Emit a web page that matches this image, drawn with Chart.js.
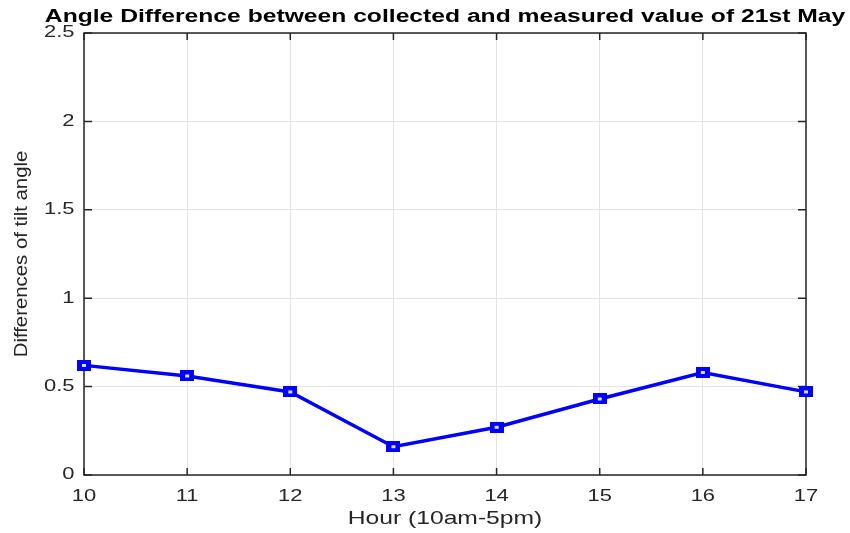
<!DOCTYPE html>
<html>
<head>
<meta charset="utf-8">
<script src="https://cdn.jsdelivr.net/npm/chart.js@4.4.1/dist/chart.umd.min.js"></script>
<style>
  html, body { margin: 0; padding: 0; background: #fff; }
</style>
</head>
<body>
<canvas id="myChart" width="850" height="533"></canvas>
<script>
// data
const hours = ['10', '11', '12', '13', '14', '15', '16', '17'];
const diffs = [0.62, 0.56, 0.47, 0.16, 0.27, 0.43, 0.58, 0.47];
const yTicks = [0, 0.5, 1, 1.5, 2, 2.5];

const FONT = "'Liberation Sans', Arial, Helvetica, sans-serif";
const TEXT = '#262626';

// the reference text is drawn wide, so stretch it a bit
const textStretch = {
  id: 'textStretch',
  beforeDraw(chart) {
    const ctx = chart.ctx;
    if (ctx.__stretched) return;
    ctx.__stretched = true;
    const fill = ctx.fillText;
    ctx.fillText = function (text, x, y) {
      const m = this.getTransform();
      const sx = Math.abs(m.b) > 0.01 ? 1.1 : 1.37;
      this.save();
      this.translate(x, y);
      this.scale(sx, 1);
      fill.call(this, text, 0, 0);
      this.restore();
    };
  }
};

// box round the plot with inward ticks, matlab style
const boxTicks = {
  id: 'boxTicks',
  beforeDatasetsDraw(chart) {
    const {ctx, chartArea: a, scales: {x, y}} = chart;
    ctx.save();
    ctx.strokeStyle = TEXT;
    ctx.lineWidth = 1.5;
    ctx.strokeRect(a.left, a.top, a.right - a.left, a.bottom - a.top);
    ctx.beginPath();
    x.ticks.forEach((t, i) => {
      const px = x.getPixelForTick(i);
      ctx.moveTo(px, a.bottom); ctx.lineTo(px, a.bottom - 7);
      ctx.moveTo(px, a.top); ctx.lineTo(px, a.top + 7);
    });
    y.ticks.forEach(t => {
      const py = y.getPixelForValue(t.value);
      ctx.moveTo(a.left, py); ctx.lineTo(a.left + 8, py);
      ctx.moveTo(a.right, py); ctx.lineTo(a.right - 8, py);
    });
    ctx.stroke();
    ctx.restore();
  }
};

// wide hollow square marker
const marker = document.createElement('canvas');
marker.width = 14;
marker.height = 11;
const mg = marker.getContext('2d');
mg.fillStyle = '#0000ff';
mg.fillRect(0, 0, 14, 11);
mg.fillStyle = '#dcdcff';
mg.fillRect(5, 4, 4, 3);

let ctx = document.querySelector('#myChart').getContext('2d');
let chart = new Chart(ctx, {
  type: 'line',
  data: {
    labels: hours,
    datasets: [{
      label: 'difference',
      data: diffs,
      borderColor: '#0000ff',
      borderWidth: 3.5,
      tension: 0,
      pointStyle: marker,
      pointRadius: 7,
      pointHoverRadius: 7
    }]
  },
  options: {
    responsive: false,
    animation: false,
    devicePixelRatio: 1,
    layout: { padding: { top: 0, right: 44, bottom: 0, left: 0 } },
    plugins: {
      legend: { display: false },
      tooltip: { enabled: false },
      title: {
        display: true,
        text: 'Angle Difference between collected and measured value of 21st May',
        color: '#000',
        fullSize: false,
        font: { family: FONT, size: 18, weight: 'bold' },
        padding: { top: 6, bottom: 5.4 }
      }
    },
    scales: {
      x: {
        grid: { color: '#e3e3e3', lineWidth: 1, drawTicks: false },
        border: { display: false },
        ticks: { color: TEXT, font: { family: FONT, size: 16 }, padding: 12, maxRotation: 0 },
        title: {
          display: true,
          text: 'Hour (10am-5pm)',
          color: TEXT,
          font: { family: FONT, size: 18 },
          padding: { top: 0, bottom: 3 }
        },
        afterFit(s) { s.height = 58; }
      },
      y: {
        min: yTicks[0],
        max: yTicks[yTicks.length - 1],
        grid: { color: '#e3e3e3', lineWidth: 1, drawTicks: false },
        border: { display: false },
        ticks: {
          stepSize: yTicks[1] - yTicks[0],
          color: TEXT,
          font: { family: FONT, size: 16 },
          padding: 9.5,
          callback: v => String(v)
        },
        title: {
          display: true,
          text: 'Differences of tilt angle',
          color: TEXT,
          font: { family: FONT, size: 18.5 },
          padding: { top: 11, bottom: 0 }
        },
        afterFit(s) { s.width = 84; }
      }
    }
  },
  plugins: [textStretch, boxTicks]
});
</script>
</body>
</html>
